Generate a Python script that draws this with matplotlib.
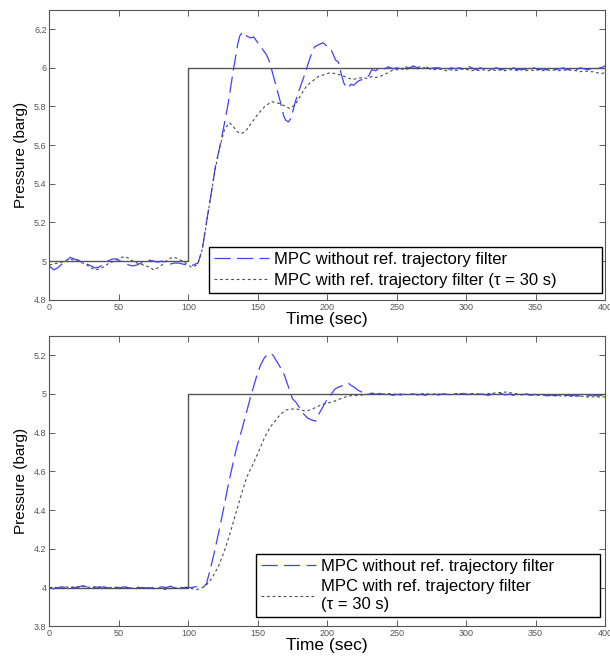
import matplotlib
matplotlib.use('Agg')
import matplotlib.pyplot as plt

plt.rcParams['font.family'] = ['Liberation Sans', 'DejaVu Sans']

# reference set-point step
ref_time = [0, 100, 400]
ref_top = [5, 6, 6]
ref_bot = [4, 5, 5]

# ---- top plot: 5 -> 6 barg ----
t_top_blue = [0, 3, 6, 9, 12, 15, 18, 21, 24, 27, 30, 33, 36, 39, 42, 45, 48, 51, 54, 57,
              60, 63, 66, 69, 72, 75, 78, 81, 84, 87, 90, 93, 96, 99, 102, 105,
              107, 110, 113, 116, 119.5, 122, 124, 127, 129, 132, 135.5, 137, 139, 141,
              143, 145, 147, 149, 152, 156, 158, 160, 163, 166, 168.7, 170, 172, 174,
              177, 180, 183, 185.5, 188, 191, 194, 197, 200, 203, 206, 208, 210, 212,
              214.5, 217, 219, 222, 225, 228, 230, 232, 235, 238, 241, 244, 247, 250,
              253, 256, 259, 262, 265, 268, 271, 274, 277, 280, 283, 286, 289, 292,
              295, 298, 301, 304, 307, 310, 313, 316, 319, 322, 325, 328, 331, 334,
              337, 340, 343, 346, 349, 352, 355, 358, 361, 364, 367, 370, 373, 376,
              379, 382, 385, 388, 391, 394, 397, 400]
p_top_blue = [4.975, 4.955, 4.965, 4.985, 5.0, 5.02, 5.01, 5.005, 4.99, 4.985, 4.975, 4.965,
              4.97, 4.985, 5.0, 5.01, 5.012, 5.0, 4.995, 4.98, 4.975, 4.98, 4.99, 5.0,
              5.005, 5.0, 4.995, 5.0, 4.99, 4.985, 4.99, 4.99, 4.985, 4.98, 4.975, 4.985,
              4.99, 5.06, 5.2, 5.33, 5.49, 5.57, 5.64, 5.75, 5.83, 5.97, 6.12, 6.165, 6.186, 6.17,
              6.16, 6.155, 6.16, 6.14, 6.11, 6.07, 6.04, 5.99, 5.91, 5.83, 5.75, 5.73, 5.72, 5.74,
              5.825, 5.89, 5.95, 6.005, 6.06, 6.11, 6.12, 6.13, 6.11, 6.09, 6.04, 6.03, 5.97, 5.92,
              5.893, 5.915, 5.91, 5.93, 5.94, 5.95, 5.96, 5.99, 5.985, 6.005, 5.995, 6.005, 5.995, 6.0,
              5.995, 6.005, 6.0, 6.01, 6.0, 6.01, 6.005, 5.995, 6.0, 6.0, 5.995, 5.99, 6.0, 5.995,
              6.0, 5.995, 6.01, 6.0, 5.99, 6.0, 5.995, 5.99, 5.995, 6.0, 5.99, 5.995, 5.99, 6.0,
              5.99, 5.995, 5.99, 5.995, 6.0, 5.99, 5.995, 5.99, 5.995, 5.99, 5.995, 6.0, 5.99, 5.995,
              5.99, 6.0, 5.995, 5.99, 6.0, 5.995, 6.0, 6.01]

t_top_gray = [0, 3, 6, 9, 12, 15, 18, 21, 24, 27, 30, 33, 36, 39, 42, 45, 48, 51, 54, 57,
              60, 63, 66, 69, 72, 75, 78, 81, 84, 87, 90, 93, 96, 99, 102, 105,
              107, 110, 113, 116, 119.5, 122, 124, 126, 129.5, 132, 135, 138, 141, 143,
              146, 150, 155, 160, 163, 166, 170, 173, 175, 177, 181, 185.5, 190, 194,
              198, 202, 206, 211, 214, 218, 222, 225, 229, 232, 235, 238, 241, 244,
              247, 250, 253, 256, 259, 262, 265, 268, 271, 274, 277, 280, 283, 286,
              289, 292, 295, 298, 301, 304, 307, 310, 313, 316, 319, 322, 325, 328,
              331, 334, 337, 340, 343, 346, 349, 352, 355, 358, 361, 364, 367, 370,
              373, 376, 379, 382, 385, 388, 391, 394, 397, 400]
p_top_gray = [4.98, 4.985, 4.99, 4.995, 5.005, 5.01, 5.005, 5.0, 4.99, 4.98, 4.965, 4.955,
              4.96, 4.97, 4.985, 4.995, 5.005, 5.015, 5.025, 5.015, 5.0, 4.99, 4.985, 4.975,
              4.97, 4.955, 4.965, 4.98, 5.0, 5.015, 5.02, 5.01, 5.0, 4.985, 4.97, 4.975,
              4.99, 5.06, 5.19, 5.33, 5.48, 5.57, 5.627, 5.68, 5.716, 5.70, 5.67, 5.66, 5.67, 5.69,
              5.72, 5.76, 5.80, 5.825, 5.82, 5.815, 5.80, 5.79, 5.80, 5.81, 5.86, 5.91, 5.935, 5.957,
              5.965, 5.975, 5.97, 5.96, 5.95, 5.94, 5.945, 5.95, 5.945, 5.955, 5.95, 5.955, 5.965, 5.975,
              5.988, 5.99, 5.995, 5.99, 5.997, 6.0, 5.995, 6.0, 6.0, 5.995, 5.99, 5.995, 5.99, 5.985,
              5.99, 5.985, 5.99, 5.995, 5.99, 5.985, 5.99, 5.985, 5.99, 5.985, 5.99, 5.985, 5.99, 5.985,
              5.99, 5.99, 5.985, 5.99, 5.985, 5.99, 5.985, 5.99, 5.985, 5.99, 5.985, 5.99, 5.985, 5.99,
              5.985, 5.99, 5.985, 5.98, 5.985, 5.98, 5.98, 5.975, 5.97, 5.975]

# ---- bottom plot: 4 -> 5 barg ----
t_bot_blue = [0, 3, 6, 9, 12, 15, 18, 21, 24, 27, 30, 33, 36, 39, 42, 45, 48, 51, 54, 57,
              60, 63, 66, 69, 72, 75, 78, 81, 84, 87, 90, 93, 96, 99, 102, 105, 108, 111,
              113, 116, 118.6, 122, 125.7, 129, 132.7, 135, 138.3, 142, 145, 149.5, 152, 155,
              158.8, 161, 163.5, 166, 169, 173, 175, 177.5, 180, 183, 186, 188.8, 191.6, 194,
              197, 200, 203, 205.6, 208, 211, 213, 215.4, 217, 219.6, 222, 225, 227, 229.5,
              232, 235, 238, 241, 244, 247, 250, 253, 256, 259, 262, 265, 268, 271, 274,
              277, 280, 283, 286, 289, 292, 295, 298, 301, 304, 307, 310, 313, 316, 319,
              322, 325, 328, 331, 334, 337, 340, 343, 346, 349, 352, 355, 358, 361, 364,
              367, 370, 373, 376, 379, 382, 385, 388, 391, 394, 397, 400]
p_bot_blue = [4.0, 3.995, 4.0, 4.005, 4.0, 4.005, 4.0, 4.005, 4.01, 4.005, 4.0, 4.005, 4.0,
              4.005, 4.0, 3.997, 4.003, 4.0, 4.005, 4.0, 3.997, 4.003, 4.0, 4.0, 3.997, 4.003,
              4.0, 4.005, 4.0, 4.008, 4.0, 4.005, 4.0, 4.003, 4.0, 4.005, 4.005, 4.005,
              4.02, 4.1, 4.18, 4.29, 4.42, 4.54, 4.66, 4.73, 4.81, 4.91, 4.99, 5.10, 5.15, 5.19,
              5.21, 5.2, 5.17, 5.14, 5.10, 5.017, 4.975, 4.957, 4.93, 4.897, 4.875, 4.866, 4.86, 4.897,
              4.935, 4.974, 5.0, 5.026, 5.035, 5.043, 5.05, 5.055, 5.045, 5.034, 5.02, 5.009, 5.0, 4.997,
              5.005, 4.998, 5.003, 4.995, 5.0, 4.993, 4.998, 4.995, 5.0, 4.995, 5.0, 4.995, 4.998, 4.993,
              4.998, 5.0, 4.995, 5.0, 4.998, 4.995, 5.0, 4.998, 5.003, 4.997, 5.0, 4.995, 5.0, 4.997,
              4.993, 5.0, 4.997, 5.003, 4.995, 5.0, 4.993, 4.998, 4.995, 5.0, 4.993, 4.998, 4.993, 4.997,
              4.99, 4.995, 4.99, 4.995, 4.99, 4.993, 4.99, 4.995, 4.988, 4.993, 4.99, 4.995, 4.99, 4.993,
              4.99]

t_bot_gray = [0, 3, 6, 9, 12, 15, 18, 21, 24, 27, 30, 33, 36, 39, 42, 45, 48, 51, 54, 57,
              60, 63, 66, 69, 72, 75, 78, 81, 84, 87, 90, 93, 96, 99, 102, 104, 106, 108, 110,
              113, 117, 121.5, 126, 130, 134, 138.3, 142, 146.7, 151, 155, 159, 163.5, 167,
              170.5, 174, 177.5, 181, 184, 186, 190, 194.4, 198, 202.8, 207, 211, 214, 216.8,
              221, 225, 229, 233, 237, 241, 245, 249, 253, 257, 261, 265, 269, 273, 277, 281,
              285, 289, 293, 297, 301, 305, 309, 313, 317, 321, 325, 329, 333, 337, 341, 345,
              349, 353, 357, 361, 365, 369, 373, 377, 381, 385, 389, 393, 397, 400]
p_bot_gray = [4.0, 4.003, 4.0, 3.997, 4.005, 4.0, 4.005, 4.003, 4.007, 4.0, 4.005, 4.0, 4.005,
              4.0, 3.997, 4.003, 4.0, 3.997, 4.003, 4.0, 3.997, 4.0, 4.003, 3.997, 4.0, 3.995,
              4.0, 3.995, 3.99, 3.997, 4.0, 3.997, 4.0, 4.0, 3.997, 3.993, 3.99, 3.995, 4.0,
              4.014, 4.05, 4.108, 4.19, 4.28, 4.38, 4.485, 4.57, 4.64, 4.71, 4.777, 4.83, 4.871, 4.9,
              4.918, 4.922, 4.923, 4.918, 4.912, 4.914, 4.925, 4.94, 4.95, 4.957, 4.968, 4.98, 4.987, 4.991,
              4.992, 4.995, 4.998, 5.003, 4.998, 5.0, 5.002, 4.998, 5.0, 4.997, 5.0, 4.998, 5.002, 5.0,
              4.997, 5.0, 5.0, 4.997, 5.002, 5.0, 4.998, 5.003, 5.0, 4.998, 5.003, 5.005, 5.008, 5.01,
              5.005, 5.0, 4.997, 5.0, 4.995, 4.993, 4.997, 4.99, 4.995, 4.988, 4.993, 4.987, 4.99, 4.987,
              4.983, 4.987, 4.983, 4.985]

blue = '#4040ff'
gray = '#4a4a4a'
dot_style = (0, (2.5, 2.5))
dash_style = (0, (13, 5))


def draw(ax, ref, tb, pb, tg, pg, ylim, yticks, label2, legend_box):
    ax.plot(ref_time, ref, color='#555555', lw=1.0, drawstyle='steps-post')
    l1, = ax.plot(tb, pb, color=blue, lw=0.9, linestyle=dash_style)
    l2, = ax.plot(tg, pg, color=gray, lw=0.8, linestyle=dot_style)
    ax.set_xlim(0, 400)
    ax.set_ylim(*ylim)
    ax.set_xticks(range(0, 401, 50))
    ax.set_yticks(yticks)
    ax.set_yticklabels(['%g' % v for v in yticks])
    ax.tick_params(direction='in', length=4, width=0.6, labelsize=6.5,
                   labelcolor='#555555', color='#444444', top=True, right=True, pad=2)
    for s in ax.spines.values():
        s.set_color('#555555')
        s.set_linewidth(0.8)
    ax.set_ylabel('Pressure (barg)', fontsize=11, labelpad=4)
    ax.set_xlabel('Time (sec)', fontsize=12.5, labelpad=0)
    leg = ax.legend([l1, l2], ['MPC without ref. trajectory filter', label2],
                    loc='lower left', bbox_to_anchor=legend_box, mode='expand',
                    fontsize=12, handlelength=3.3, handletextpad=0.3, borderaxespad=0,
                    fancybox=False, framealpha=1, edgecolor='black', borderpad=0.3,
                    labelspacing=0.35)
    leg.get_frame().set_linewidth(1.0)


fig = plt.figure(figsize=(6.10, 6.56), dpi=100)
ax1 = fig.add_axes([0.081, 0.543, 0.911, 0.442])
ax2 = fig.add_axes([0.081, 0.045, 0.911, 0.443])

draw(ax1, ref_top, t_top_blue, p_top_blue, t_top_gray, p_top_gray,
     (4.8, 6.3), [4.8, 5, 5.2, 5.4, 5.6, 5.8, 6, 6.2],
     'MPC with ref. trajectory filter (\u03c4 = 30 s)', (0.287, 0.024, 0.708, 0.155))
draw(ax2, ref_bot, t_bot_blue, p_bot_blue, t_bot_gray, p_bot_gray,
     (3.8, 5.3), [3.8, 4, 4.2, 4.4, 4.6, 4.8, 5, 5.2],
     'MPC with ref. trajectory filter\n(\u03c4 = 30 s)', (0.372, 0.033, 0.619, 0.24))

fig.savefig('out.png', dpi=100)
